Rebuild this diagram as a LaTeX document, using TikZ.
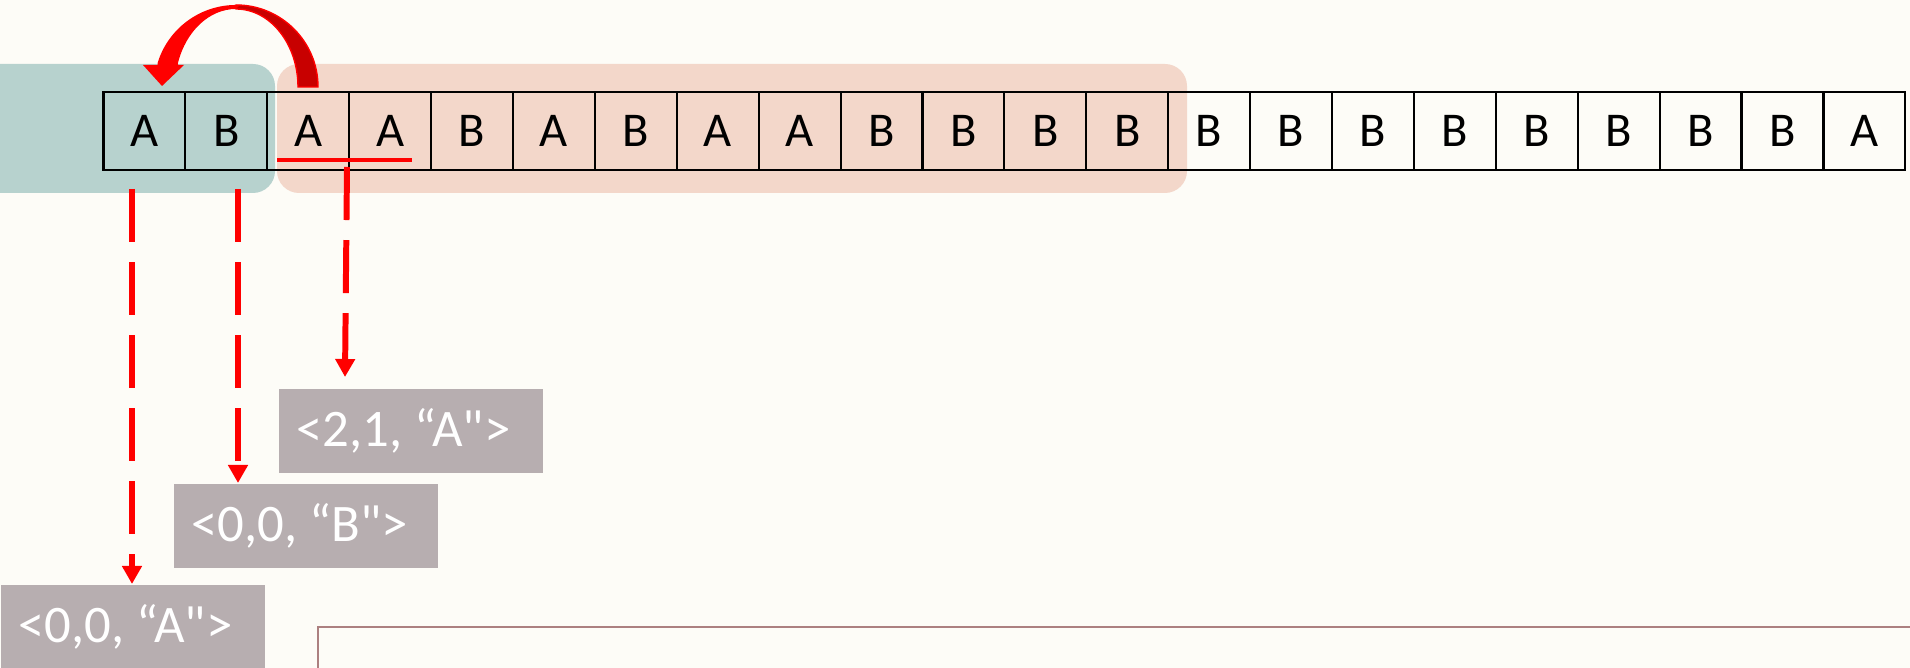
\documentclass[tikz,border=0pt]{standalone}
\usepackage{fontspec}
\setmainfont{Carlito}
\newfontfamily\lblfont{Carlito}
\usetikzlibrary{arrows.meta}
\definecolor{bgc}{RGB}{253,252,247}
\definecolor{tealbox}{RGB}{183,210,206}
\definecolor{salmonbox}{RGB}{243,215,202}
\definecolor{lblgray}{RGB}{183,174,176}
\definecolor{framec}{RGB}{172,128,128}
\definecolor{darkred}{RGB}{200,0,0}
\newcommand{\lbltext}[1]{\makebox[2.28cm][l]{#1}}
\begin{document}
\begin{tikzpicture}[x=0.01cm,y=0.01cm,
  cell/.style={draw=black,line width=0.6pt,minimum width=0.819cm,minimum height=0.78cm,inner sep=0pt,font=\fontsize{13.8}{16}\selectfont},
  lbl/.style={fill=lblgray,text=white,anchor=north west,minimum height=0.84cm,inner xsep=0.18cm,inner ysep=0pt,font=\lblfont\fontsize{15}{18}\selectfont},
  darrow/.style={draw=red,line width=1.7pt,dash pattern=on 0.53cm off 0.2cm,-{Triangle[width=0.19cm,length=0.18cm]}},
  uline/.style={draw=red,line width=1pt}
]
\useasboundingbox (0,0) rectangle (1910,-668);
\clip (0,0) rectangle (1910,-668);
\fill[bgc] (0,0) rectangle (1910,-668);
% highlight boxes
\fill[tealbox,rounded corners=0.22cm] (-40,-64) rectangle (275,-193);
\fill[salmonbox,rounded corners=0.22cm] (277,-64) rectangle (1187,-193);
% cells
\foreach \t [count=\i] in {A,B,A,A,B,A,B,A,A,B,B,B,B,B,B,B,B,B,B,B,B,A}
  \node[cell] (c\i) at ({103.5+81.9*(\i-0.5)},-131) {\t};
% underline
\draw[uline] (277,-160) -- (412,-160);
% labels
\node[lbl] (l3) at (278,-388) {\lbltext{<2,1, “A">}};
\node[lbl] (l2) at (173,-483) {\lbltext{<0,0, “B">}};
\node[lbl] (l1) at (0,-584) {\lbltext{<0,0, “A">}};
% dashed arrows
\coordinate (s1) at (132,-189);
\coordinate (s2) at (238,-189);
\coordinate (s3) at (347,-167);
\coordinate (e3) at (345,-377);
\draw[darrow] (s1) -- (s1 |- l1.north);
\draw[darrow] (s2) -- (s2 |- l2.north);
\draw[darrow] (s3) -- (e3);
% frame at bottom right
\draw[framec,line width=0.6pt] (318,-627) rectangle (1960,-720);
% curved arrow
\filldraw[fill=darkred,draw=red,line width=0.4pt] (318,-87) arc[start angle=0,end angle=90,radius=82]
  -- (236,-9) arc[start angle=90,end angle=0,x radius=62,y radius=78] -- cycle;
\fill[red] (162,-86) -- (143,-65) -- (157.6,-65) -- (157.6,-63)
  arc[start angle=163,end angle=90,radius=82] -- (240,-5) -- (236,-9)
  arc[start angle=90,end angle=162,x radius=61,y radius=78] -- (178,-65) -- (184,-65) -- cycle;
\end{tikzpicture}
\end{document}
